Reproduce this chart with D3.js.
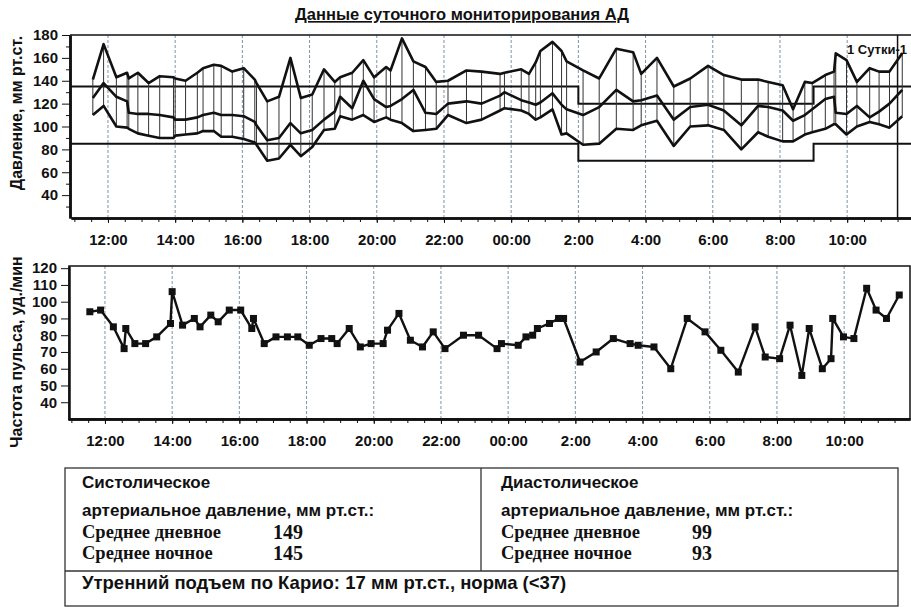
<!DOCTYPE html>
<html>
<head>
<meta charset="UTF-8">
<style>
	body { margin: 0; background: #ffffff; }
	svg { display: block; }
	text { font-family: "Liberation Sans", Arial, sans-serif; fill: #111; }
	.axis text { font-size: 15px; font-weight: bold; }
	.axis line { stroke: #111; }
	.axis path { stroke: #111; stroke-width: 2.5px; }
	.serif { font-family: "Liberation Serif", "Times New Roman", serif; font-weight: bold; }
</style>
</head>
<body>
<svg width="911" height="607"></svg>
<script src="https://d3js.org/d3.v7.min.js"></script>
<script>

// measurement times, hours from midnight of day 1 (values > 24 are next day)
let measureHours = [11.55, 11.87, 12.25, 12.57, 12.62, 12.89, 13.21, 13.54, 13.95, 14.0,
	14.31, 14.66, 14.83, 15.15, 15.37, 15.7, 16.04, 16.37, 16.42, 16.74,
	17.09, 17.43, 17.74, 18.08, 18.43, 18.75, 18.91, 19.27, 19.6, 19.92,
	20.28, 20.41, 20.75, 21.09, 21.45, 21.77, 22.12, 22.67, 23.12, 23.67,
	23.8, 24.3, 24.53, 24.73, 24.87, 25.23, 25.5, 25.65, 26.14, 26.62,
	27.13, 27.63, 27.87, 28.34, 28.84, 29.33, 29.86, 30.33, 30.85, 31.35,
	31.65, 32.08, 32.39, 32.74, 32.96, 33.35, 33.61, 33.66, 33.98, 34.29,
	34.67, 34.95, 35.26, 35.64];

let systolic = [141, 172, 143, 147, 142, 147, 138, 144, 143, 142,
	140, 147, 151, 154, 153, 148, 151, 141, 138, 122,
	126, 160, 125, 128, 150, 139, 143, 147, 158, 143,
	152, 149, 177, 157, 152, 139, 140, 149, 148, 146,
	147, 150, 146, 156, 166, 174, 166, 157, 149, 142,
	168, 165, 146, 160, 135, 142, 153, 145, 141, 141,
	139, 136, 115, 139, 138, 145, 148, 164, 158, 139,
	151, 148, 148, 164];

let meanPressure = [125, 138, 126, 122, 112, 111, 111, 110, 108, 106,
	106, 108, 110, 112, 110, 110, 109, 104, 101, 88,
	90, 103, 94, 97, 106, 113, 126, 116, 140, 124,
	117, 118, 124, 132, 112, 111, 120, 122, 120, 127,
	130, 123, 121, 119, 121, 129, 119, 115, 110, 117,
	132, 122, 123, 127, 106, 117, 119, 114, 101, 118,
	117, 114, 105, 110, 115, 124, 126, 112, 111, 118,
	108, 113, 120, 132];

let diastolic = [110, 118, 100, 99, 98, 94, 92, 90, 90, 92,
	93, 94, 96, 96, 91, 91, 89, 86, 84, 70,
	72, 84, 74, 82, 97, 98, 109, 106, 110, 104,
	108, 106, 103, 96, 97, 98, 110, 103, 106, 114,
	116, 114, 111, 106, 108, 115, 93, 94, 84, 85,
	98, 97, 101, 105, 83, 100, 101, 97, 80, 95,
	91, 87, 87, 93, 95, 98, 102, 102, 93, 100,
	104, 102, 99, 109];

let pulse = [94, 95, 85, 72, 84, 75, 75, 79, 87, 106,
	86, 90, 85, 92, 88, 95, 95, 84, 90, 75,
	79, 79, 79, 74, 78, 78, 75, 84, 73, 75,
	75, 83, 93, 77, 73, 82, 72, 80, 80, 72,
	75, 74, 79, 80, 84, 87, 90, 90, 64, 70,
	78, 75, 74, 73, 60, 90, 82, 71, 58, 85,
	67, 66, 86, 56, 84, 60, 66, 90, 79, 78,
	108, 95, 90, 104];

// day / night limits (step changes at 2:00 and 9:00)
let limitHours = [10.9, 26, 33, 35.95];
let sysLimit = [135, 120, 135, 135];
let diaLimit = [85, 70, 85, 85];
let dayEndHour = 35.5;

let timeTicks = [12, 14, 16, 18, 20, 22, 24, 26, 28, 30, 32, 34];
let timeLabels = ["12:00", "14:00", "16:00", "18:00", "20:00", "22:00",
	"00:00", "2:00", "4:00", "6:00", "8:00", "10:00"];
let pressureTicks = [40, 60, 80, 100, 120, 140, 160, 180];
let pulseTicks = [40, 50, 60, 70, 80, 90, 100, 110, 120];

let sysAverages = [149, 145];
let diaAverages = [99, 93];
let averageLabels = ["Среднее дневное", "Среднее ночное"];

let svg = d3.select("svg");

let halfHours = d3.range(11, 36, 0.5);

// ---------- Blood pressure chart ----------
let top1 = 35, bottom1 = 218, left1 = 70, right1 = 911;
let x1 = d3.scaleLinear().domain([10.9, 35.9]).range([left1 + 1, right1]);
let y1 = d3.scaleLinear().domain([20, 180]).range([bottom1, top1]);

svg.append("defs").append("clipPath").attr("id", "clip1")
	.append("rect").attr("x", left1).attr("y", top1 - 2).attr("width", right1 - left1).attr("height", bottom1 - top1 + 2);

svg.append("text")
	.attr("x", 462).attr("y", 20)
	.attr("text-anchor", "middle")
	.style("font-size", "16.5px").style("font-weight", "bold")
	.style("text-decoration", "underline")
	.text("Данные суточного мониторирования АД");

// vertical grid
svg.append("g").selectAll("line")
	.data(timeTicks).enter().append("line")
	.attr("x1", d => x1(d)).attr("x2", d => x1(d))
	.attr("y1", top1).attr("y2", bottom1)
	.attr("stroke", "#7f93a8").attr("stroke-width", 1).attr("stroke-dasharray", "3,2");

// frame
svg.append("line").attr("x1", left1).attr("x2", right1).attr("y1", top1).attr("y2", top1)
	.attr("stroke", "#111").attr("stroke-width", 1.5);

let g1 = svg.append("g").attr("clip-path", "url(#clip1)");

// limit lines
let limitLine = (vals, sc, xs) => d3.line()
	.x((d, i) => xs(limitHours[i]))
	.y((d) => sc(d))
	.curve(d3.curveStepAfter)(vals);
g1.append("path").attr("d", limitLine(sysLimit, y1, x1)).attr("fill", "none").attr("stroke", "#111").attr("stroke-width", 2);
g1.append("path").attr("d", limitLine(diaLimit, y1, x1)).attr("fill", "none").attr("stroke", "#111").attr("stroke-width", 2);

// day end marker
g1.append("line").attr("x1", x1(dayEndHour)).attr("x2", x1(dayEndHour))
	.attr("y1", top1).attr("y2", bottom1).attr("stroke", "#111").attr("stroke-width", 1.5);

// hatching between systolic and diastolic
g1.append("g").selectAll("line")
	.data(measureHours).enter().append("line")
	.attr("x1", d => x1(d)).attr("x2", d => x1(d))
	.attr("y1", (d, i) => y1(systolic[i])).attr("y2", (d, i) => y1(diastolic[i]))
	.attr("stroke", "#333").attr("stroke-width", 1);

let bpLine = vals => d3.line()
	.x((d, i) => x1(measureHours[i]))
	.y(d => y1(d))(vals);

[systolic, meanPressure, diastolic].forEach(vals => {
	g1.append("path").attr("d", bpLine(vals))
		.attr("fill", "none").attr("stroke", "#111").attr("stroke-width", 2.6)
		.attr("stroke-linejoin", "round");
});

g1.append("text")
	.attr("x", 847).attr("y", 54)
	.style("font-size", "13px").style("font-weight", "bold")
	.text("1 Сутки-1");

// axes
svg.append("g").attr("class", "axis")
	.attr("transform", "translate(0," + bottom1 + ")")
	.call(d3.axisBottom(x1).tickValues(halfHours).tickSize(4).tickSizeOuter(0).tickFormat(""));
svg.append("g").attr("class", "axis")
	.attr("transform", "translate(0," + bottom1 + ")")
	.call(d3.axisBottom(x1).tickValues(timeTicks).tickSize(5).tickSizeOuter(0).tickPadding(11)
		.tickFormat((d, i) => timeLabels[i]));
svg.append("g").attr("class", "axis")
	.attr("transform", "translate(" + left1 + ",0)")
	.call(d3.axisLeft(y1).tickValues(d3.range(30, 180, 20)).tickSize(4).tickSizeOuter(0).tickFormat(""));
svg.append("g").attr("class", "axis")
	.attr("transform", "translate(" + left1 + ",0)")
	.call(d3.axisLeft(y1).tickValues(pressureTicks).tickSize(8).tickSizeOuter(0).tickPadding(4));

svg.append("text")
	.attr("transform", "translate(22,113) rotate(-90)")
	.attr("text-anchor", "middle")
	.style("font-size", "16px").style("font-weight", "bold")
	.text("Давление, мм рт.ст.");

// ---------- Pulse chart ----------
let top2 = 266, bottom2 = 419, left2 = 69, right2 = 910;
let x2 = d3.scaleLinear().domain([10.9, 35.96]).range([left2 - 1, right2]);
let y2 = d3.scaleLinear().domain([30, 121.3]).range([bottom2, top2]);

svg.append("g").selectAll("line")
	.data(timeTicks).enter().append("line")
	.attr("x1", d => x2(d)).attr("x2", d => x2(d))
	.attr("y1", top2).attr("y2", bottom2)
	.attr("stroke", "#7f93a8").attr("stroke-width", 1).attr("stroke-dasharray", "3,2");

svg.append("rect")
	.attr("x", left2).attr("y", top2).attr("width", right2 - left2).attr("height", bottom2 - top2)
	.attr("fill", "none").attr("stroke", "#111").attr("stroke-width", 1.5);

svg.append("path")
	.attr("d", d3.line().x((d, i) => x2(measureHours[i])).y(d => y2(d))(pulse))
	.attr("fill", "none").attr("stroke", "#111").attr("stroke-width", 2.4)
	.attr("stroke-linejoin", "round");

svg.append("g").selectAll("rect")
	.data(pulse).enter().append("rect")
	.attr("x", (d, i) => x2(measureHours[i]) - 3.5)
	.attr("y", d => y2(d) - 3.5)
	.attr("width", 7).attr("height", 7)
	.attr("fill", "#111");

svg.append("g").attr("class", "axis")
	.attr("transform", "translate(0," + bottom2 + ")")
	.call(d3.axisBottom(x2).tickValues(halfHours).tickSize(4).tickSizeOuter(0).tickFormat(""));
svg.append("g").attr("class", "axis")
	.attr("transform", "translate(0," + bottom2 + ")")
	.call(d3.axisBottom(x2).tickValues(timeTicks).tickSize(5).tickSizeOuter(0).tickPadding(11)
		.tickFormat((d, i) => timeLabels[i]));
svg.append("g").attr("class", "axis")
	.attr("transform", "translate(" + left2 + ",0)")
	.call(d3.axisLeft(y2).tickValues(pulseTicks).tickSize(8).tickSizeOuter(0).tickPadding(4));

svg.append("text")
	.attr("transform", "translate(22,352) rotate(-90)")
	.attr("text-anchor", "middle")
	.style("font-size", "16px").style("font-weight", "bold")
	.text("Частота пульса, уд./мин");

// ---------- Summary table ----------
let tb = svg.append("g");
tb.append("rect").attr("x", 65).attr("y", 468).attr("width", 833).attr("height", 138)
	.attr("fill", "none").attr("stroke", "#333").attr("stroke-width", 1.3);
tb.append("line").attr("x1", 65).attr("x2", 898).attr("y1", 571).attr("y2", 571)
	.attr("stroke", "#333").attr("stroke-width", 1.3);
tb.append("line").attr("x1", 481).attr("x2", 481).attr("y1", 468).attr("y2", 571)
	.attr("stroke", "#333").attr("stroke-width", 1.3);

let columns = [
	{x: 82, title: "Систолическое", vals: sysAverages},
	{x: 501, title: "Диастолическое", vals: diaAverages}
];
columns.forEach(c => {
	tb.append("text").attr("x", c.x).attr("y", 488)
		.style("font-size", "17px").style("font-weight", "bold").text(c.title);
	tb.append("text").attr("x", c.x).attr("y", 516)
		.style("font-size", "17px").style("font-weight", "bold").text("артериальное давление, мм рт.ст.:");
	c.vals.forEach((v, i) => {
		tb.append("text").attr("class", "serif").attr("x", c.x).attr("y", 538 + i * 21)
			.style("font-size", "18.5px").text(averageLabels[i]);
		tb.append("text").attr("class", "serif").attr("x", c.x + 191).attr("y", 539 + i * 21)
			.style("font-size", "20px").text(v);
	});
});

tb.append("text").attr("x", 82).attr("y", 589)
	.style("font-size", "18.5px").style("font-weight", "bold")
	.text("Утренний подъем по Карио: 17 мм рт.ст., норма (<37)");

</script>
</body>
</html>
